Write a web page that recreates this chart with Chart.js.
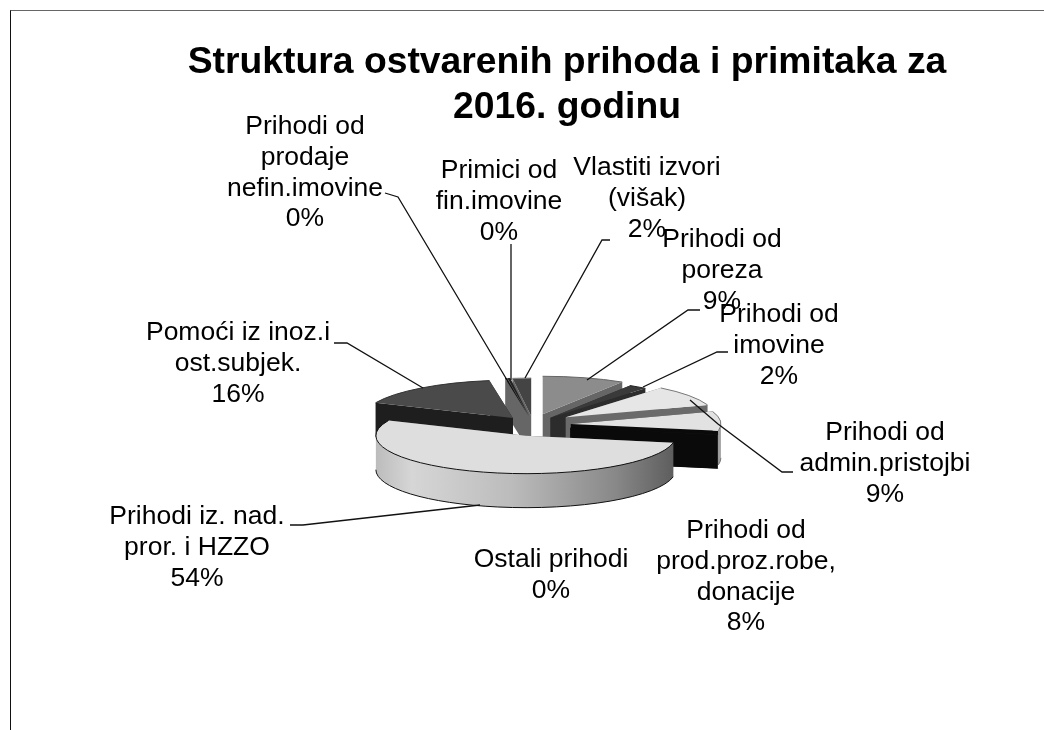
<!DOCTYPE html>
<html>
<head>
<meta charset="utf-8">
<style>
html, body { margin: 0; padding: 0; background: #fff; }
#frame { position: absolute; left: 10px; top: 10px; width: 1034px; height: 720px; box-sizing: border-box; border-top: 1px solid #666; border-left: 1px solid #111; }
#wrap { position: absolute; left: 0; top: 0; width: 1044px; height: 730px; }
</style>
</head>
<body>
<div id="frame"></div>
<div id="wrap"><canvas id="chart"></canvas></div>
<script src="https://cdn.jsdelivr.net/npm/chart.js@4"></script>
<script>
// slices clockwise from 12 o'clock
const categories = ['Prihodi od poreza', 'Prihodi od imovine', 'Prihodi od admin.pristojbi', 'Prihodi od prod.proz.robe, donacije', 'Ostali prihodi', 'Prihodi iz. nad. pror. i HZZO', 'Pomoći iz inoz.i ost.subjek.', 'Prihodi od prodaje nefin.imovine', 'Primici od fin.imovine', 'Vlastiti izvori (višak)'];
const shareValues = [8.9, 2.0, 8.8, 8.2, 0.1, 53.6, 15.9, 0.2, 0.3, 2.0];
const labelLines = [['Prihodi od', 'poreza'], ['Prihodi od', 'imovine'], ['Prihodi od', 'admin.pristojbi'], ['Prihodi od', 'prod.proz.robe,', 'donacije'], ['Ostali prihodi'], ['Prihodi iz. nad.', 'pror. i HZZO'], ['Pomoći iz inoz.i', 'ost.subjek.'], ['Prihodi od', 'prodaje', 'nefin.imovine'], ['Primici od', 'fin.imovine'], ['Vlastiti izvori', '(višak)']];

const topColors = ['#8c8c8c', '#3a3a3a', '#e6e6e6', '#e2e2e2', '#222222', '#dedede', '#4a4a4a', '#111111', '#222222', '#444444'];
const wallColors = ['#666666', '#2c2c2c', '#6a6a6a', '#0a0a0a', '#0a0a0a', '#555555', '#1e1e1e', '#666666', '#666666', '#666666'];
const rimColors = ['#666666', '#222222', '#777777', '#777777', '#222222', '#111111', '#333333', '#111111', '#222222', '#888888'];

// 3d look
const center = { x: 533, y: 427 };
const pieRadius = 150;
const squash = 0.253;
const explodeSquash = 0.38;
const depth = 34;
const explode = [35, 30, 40, 38, 38, 24, 33, 29, 29, 29];
const lift = [0, 0, -1, -2, -2, 0, 1, 0, 0, 0];

// label centre x, first line centre y
const labelX = [722, 779, 885, 746, 551, 197, 238, 305, 499, 647];
const labelY = [240, 315, 433, 531, 560, 517, 333, 127, 171, 168];
const labelLineHeight = 30.6;

const leaders = [
  [[700, 310], [688, 310], [587, 380]],
  [[728, 352], [717, 352], [643, 387]],
  [[793, 472], [782, 472], [718, 424], [690, 400]],
  [],
  [],
  [[290, 525], [303, 525], [480, 505]],
  [[334, 343], [347, 343], [423, 388]],
  [[385, 193], [398, 197], [507, 380]],
  [[511, 244], [511, 380]],
  [[610, 240], [602, 240], [525, 378]]
];

const total = shareValues.reduce((a, b) => a + b, 0);

function apexOf(arc, i) {
  const mid = (arc.startAngle + arc.endAngle) / 2;
  return {
    x: center.x + Math.cos(mid) * explode[i],
    y: center.y + Math.sin(mid) * explode[i] * explodeSquash + lift[i]
  };
}

function radialWall(ctx, apex, r, angle, color) {
  const px = apex.x + Math.cos(angle) * r;
  const py = apex.y + Math.sin(angle) * r * squash;
  ctx.fillStyle = color;
  ctx.beginPath();
  ctx.moveTo(apex.x, apex.y);
  ctx.lineTo(px, py);
  ctx.lineTo(px, py + depth);
  ctx.lineTo(apex.x, apex.y + depth);
  ctx.closePath();
  ctx.fill();
}

const pie3d = {
  id: 'pie3d',
  beforeDatasetDraw(chart, args) {
    const ctx = chart.ctx;
    const arcs = chart.getDatasetMeta(args.index).data;
    const order = arcs.map((a, i) => i).sort((a, b) => {
      const ma = (arcs[a].startAngle + arcs[a].endAngle) / 2;
      const mb = (arcs[b].startAngle + arcs[b].endAngle) / 2;
      return Math.sin(ma) - Math.sin(mb);
    });
    order.forEach(i => {
      const arc = arcs[i];
      const apex = apexOf(arc, i);
      const r = arc.outerRadius;
      radialWall(ctx, apex, r, arc.startAngle, wallColors[i]);
      radialWall(ctx, apex, r, arc.endAngle, wallColors[i]);

      // outer wall, only the front half of the ellipse shows
      const from = Math.max(arc.startAngle, 0);
      const to = Math.min(arc.endAngle, Math.PI);
      if (to > from) {
        let fill = '#a0a0a0';
        if (categories[i].includes('HZZO')) {
          fill = ctx.createLinearGradient(apex.x - r, 0, apex.x + r, 0);
          fill.addColorStop(0, '#bcbcbc');
          fill.addColorStop(0.12, '#d6d6d6');
          fill.addColorStop(0.45, '#bcbcbc');
          fill.addColorStop(0.8, '#888888');
          fill.addColorStop(1, '#5c5c5c');
        }
        ctx.fillStyle = fill;
        ctx.beginPath();
        ctx.ellipse(apex.x, apex.y, r, r * squash, 0, from, to);
        ctx.ellipse(apex.x, apex.y + depth, r, r * squash, 0, to, from, true);
        ctx.closePath();
        ctx.fill();
        ctx.strokeStyle = rimColors[i];
        ctx.lineWidth = 1;
        ctx.beginPath();
        ctx.ellipse(apex.x, apex.y + depth, r, r * squash, 0, from, to);
        ctx.stroke();
      }

      // the top face is the library's own arc, squashed into an ellipse
      ctx.save();
      ctx.translate(apex.x, apex.y);
      ctx.scale(1, squash);
      ctx.translate(-arc.x, -arc.y);
      arc.draw(ctx);
      ctx.restore();

      ctx.strokeStyle = rimColors[i];
      ctx.lineWidth = 1;
      ctx.beginPath();
      ctx.ellipse(apex.x, apex.y, r, r * squash, 0, arc.startAngle, arc.endAngle);
      ctx.stroke();
    });
    return false;
  },
  afterDatasetsDraw(chart) {
    const ctx = chart.ctx;
    ctx.save();
    ctx.strokeStyle = '#111';
    ctx.lineWidth = 1.3;
    leaders.forEach(pts => {
      if (!pts.length) return;
      ctx.beginPath();
      pts.forEach((p, n) => (n ? ctx.lineTo(p[0], p[1]) : ctx.moveTo(p[0], p[1])));
      ctx.stroke();
    });
    ctx.fillStyle = '#000';
    ctx.font = '26.5px "Liberation Sans"';
    ctx.textAlign = 'center';
    ctx.textBaseline = 'middle';
    labelLines.forEach((lines, i) => {
      const pct = Math.round(shareValues[i] / total * 100) + '%';
      lines.concat(pct).forEach((text, n) => {
        ctx.fillText(text, labelX[i], labelY[i] + n * labelLineHeight);
      });
    });
    ctx.restore();
  }
};

new Chart(document.getElementById('chart'), {
  type: 'pie',
  data: {
    labels: categories,
    datasets: [{
      data: shareValues,
      backgroundColor: topColors,
      borderColor: rimColors,
      borderWidth: 0,
      radius: pieRadius
    }]
  },
  options: {
    responsive: true,
    maintainAspectRatio: false,
    animation: false,
    layout: { padding: { left: 90 } },
    plugins: {
      legend: { display: false },
      tooltip: { enabled: false },
      title: {
        display: true,
        text: ['Struktura ostvarenih prihoda i primitaka za', '2016. godinu'],
        color: '#000',
        font: { family: '"Liberation Sans"', size: 37.3, weight: 'bold', lineHeight: 1.21 },
        padding: { top: 40, bottom: 0 }
      }
    }
  },
  plugins: [pie3d]
});
</script>
</body>
</html>
